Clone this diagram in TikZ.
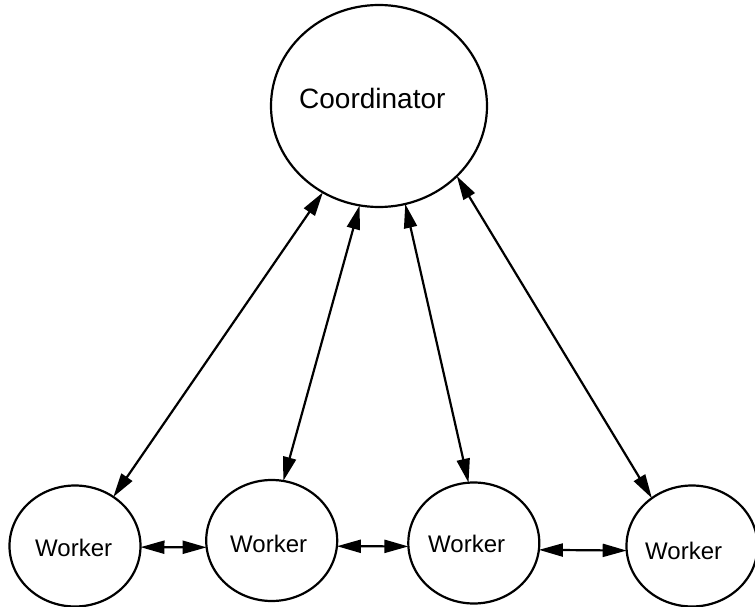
\documentclass[tikz,border=0pt]{standalone}
\usepackage{fontspec}
\setmainfont{Liberation Sans}
\usetikzlibrary{shapes.geometric,arrows.meta}
\begin{document}
\begin{tikzpicture}[x=1pt,y=-1pt,
  bubble/.style={ellipse,draw,line width=2.2pt,inner sep=0pt,outer sep=0pt},
  wbubble/.style={bubble,minimum width=131pt,minimum height=121pt},
  lbl/.style={inner sep=0pt,anchor=base west},
  link/.style={line width=2.2pt,{Triangle[length=24pt,width=13pt]}-{Triangle[length=24pt,width=13pt]}}]
\useasboundingbox (0,0) rectangle (755,607);
\node[bubble,minimum width=216pt,minimum height=202pt] (c) at (379,106) {};
\node[wbubble] (w1) at (75,546) {};
\node[wbubble] (w2) at (271.7,540.5) {};
\node[wbubble] (w3) at (473.8,543) {};
\node[wbubble] (w4) at (692,546) {};
\node[lbl,font=\fontsize{28}{32}\selectfont] (ct) at (299,108.3) {Coordinator};
\node[lbl,font=\fontsize{24}{28}\selectfont] (t1) at (35,556.7) {Worker};
\node[lbl,font=\fontsize{24}{28}\selectfont] (t2) at (230,552.7) {Worker};
\node[lbl,font=\fontsize{24}{28}\selectfont] (t3) at (428,552.7) {Worker};
\node[lbl,font=\fontsize{24}{28}\selectfont] (t4) at (645,559.3) {Worker};
\draw[link] (c.237.7) -- (w1.52.8);
\draw[link] (c.259.3) -- (w2.79.4);
\draw[link] (c.285.1) -- (w3.95.4);
\draw[link] (c.318.3) -- (w4.130);
\draw[link] (w1.-1.7) -- (w2.186.3);
\draw[link] (w2.-5.9) -- (w3.183.8);
\draw[link] (w3.-6.9) -- (w4.184.5);
\end{tikzpicture}
\end{document}
